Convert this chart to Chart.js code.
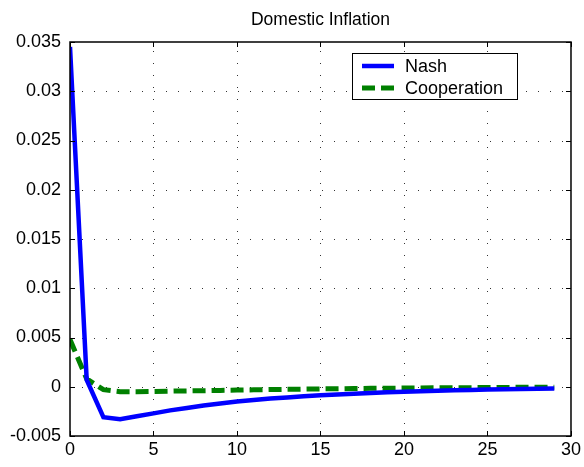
<!DOCTYPE html>
<html><head><meta charset="utf-8">
<script src="https://cdn.jsdelivr.net/npm/chart.js@4/dist/chart.umd.min.js"></script>
<style>html,body{margin:0;padding:0;background:#fff}canvas{display:block}</style>
</head><body>
<canvas id="c" width="584" height="467" style="width:584px;height:467px"></canvas>
<script>
const periods = [0,1,2,3,4,5,6,7,8,9,10,11,12,13,14,15,16,17,18,19,20,21,22,23,24,25,26,27,28,29];
const nash = [0.0345,0.0007,-0.0031,-0.0033,-0.0030,-0.0027,-0.0024,-0.00215,-0.0019,-0.0017,-0.0015,-0.00135,-0.0012,-0.00108,-0.00097,-0.00087,-0.00078,-0.0007,-0.00063,-0.00056,-0.0005,-0.00045,-0.0004,-0.00036,-0.00032,-0.00029,-0.00026,-0.00023,-0.00021,-0.00019];
const cooperation = [0.0048,0.0008,-0.0003,-0.0005,-0.0005,-0.00048,-0.00045,-0.00042,-0.0004,-0.00037,-0.00034,-0.00031,-0.00028,-0.00026,-0.00024,-0.00022,-0.0002,-0.00018,-0.00016,-0.00015,-0.00013,-0.00012,-0.00011,-0.0001,-0.00009,-0.00008,-0.00007,-0.00006,-0.00005,-0.00005];
const xTicks = [0,5,10,15,20,25,30];
const yTicks = [-0.005,0,0.005,0.01,0.015,0.02,0.025,0.03,0.035];
const titleText = 'Domestic Inflation';
const seriesNames = ['Nash','Cooperation'];

const FONT = '"Liberation Sans", Arial, Helvetica, sans-serif';

const matlabPlugin = {
  id: 'matlab',
  beforeDatasetsDraw(chart) {
    const {ctx, chartArea: a, scales: {x, y}} = chart;
    ctx.save();
    ctx.strokeStyle = 'rgba(0,0,0,0.8)';
    ctx.lineWidth = 1;
    ctx.setLineDash([1, 11]);
    xTicks.forEach(v => {
      if (v <= 0 || v >= 30) return;
      const px = Math.round(x.getPixelForValue(v)) + 0.5;
      ctx.beginPath(); ctx.moveTo(px, a.bottom); ctx.lineTo(px, a.top); ctx.stroke();
    });
    yTicks.forEach(v => {
      if (v <= -0.005 || v >= 0.035) return;
      const py = Math.round(y.getPixelForValue(v)) + 0.5;
      ctx.beginPath(); ctx.moveTo(a.left, py); ctx.lineTo(a.right, py); ctx.stroke();
    });
    ctx.restore();
  },
  afterDraw(chart) {
    const {ctx, chartArea: a, scales: {x, y}} = chart;
    ctx.save();
    ctx.setLineDash([]);
    ctx.strokeStyle = '#000';
    ctx.lineWidth = 1.5;
    ctx.strokeRect(a.left, a.top, a.right - a.left, a.bottom - a.top);
    ctx.lineWidth = 1;
    const tl = 5;
    xTicks.forEach(v => {
      const px = Math.round(x.getPixelForValue(v)) + 0.5;
      ctx.beginPath(); ctx.moveTo(px, a.bottom); ctx.lineTo(px, a.bottom - tl); ctx.stroke();
      ctx.beginPath(); ctx.moveTo(px, a.top); ctx.lineTo(px, a.top + tl); ctx.stroke();
    });
    yTicks.forEach(v => {
      const py = Math.round(y.getPixelForValue(v)) + 0.5;
      ctx.beginPath(); ctx.moveTo(a.left, py); ctx.lineTo(a.left + tl, py); ctx.stroke();
      ctx.beginPath(); ctx.moveTo(a.right, py); ctx.lineTo(a.right - tl, py); ctx.stroke();
    });
    // title
    ctx.fillStyle = '#000';
    ctx.font = '17.5px ' + FONT;
    ctx.textAlign = 'center';
    ctx.textBaseline = 'middle';
    ctx.fillText(titleText, (a.left + a.right) / 2, 20);
    // legend
    const lx = 352, ly = 53, lw = 165, lh = 46;
    ctx.fillStyle = '#fff';
    ctx.fillRect(lx, ly, lw, lh);
    ctx.strokeStyle = '#000';
    ctx.lineWidth = 1;
    ctx.strokeRect(lx + 0.5, ly + 0.5, lw, lh);
    const ds = chart.data.datasets;
    [0, 1].forEach(i => {
      const yy = ly + 13 + i * 22;
      ctx.strokeStyle = ds[i].borderColor;
      ctx.lineWidth = ds[i].borderWidth;
      ctx.setLineDash(ds[i].borderDash || []);
      ctx.beginPath(); ctx.moveTo(lx + 10, yy); ctx.lineTo(lx + 42, yy); ctx.stroke();
      ctx.setLineDash([]);
      ctx.fillStyle = '#000';
      ctx.font = '18px ' + FONT;
      ctx.textAlign = 'left';
      ctx.textBaseline = 'middle';
      ctx.fillText(seriesNames[i], lx + 53, yy + 1);
    });
    ctx.restore();
  }
};

new Chart(document.getElementById('c'), {
  type: 'line',
  data: {
    labels: periods,
    datasets: [
      {label: seriesNames[0], data: periods.map((p, i) => ({x: p, y: nash[i]})), borderColor: '#0000ff', borderWidth: 4.5, pointRadius: 0, tension: 0, fill: false},
      {label: seriesNames[1], data: periods.map((p, i) => ({x: p, y: cooperation[i]})), borderColor: '#008000', borderWidth: 5, borderDash: [13, 6], pointRadius: 0, tension: 0, fill: false}
    ]
  },
  options: {
    responsive: false,
    animation: false,
    devicePixelRatio: 1,
    layout: {padding: {top: 42, right: 12, left: 0, bottom: 0}},
    plugins: {legend: {display: false}, title: {display: false}, tooltip: {enabled: false}},
    scales: {
      x: {
        type: 'linear', min: 0, max: 30,
        afterBuildTicks: s => { s.ticks = xTicks.map(v => ({value: v})); },
        afterFit: s => { s.height = 31; },
        grid: {display: false, drawTicks: false},
        border: {display: false},
        ticks: {color: '#000', font: {family: FONT, size: 18}, padding: 3, maxRotation: 0, autoSkip: false, callback: v => String(v)}
      },
      y: {
        type: 'linear', min: -0.005, max: 0.035,
        afterBuildTicks: s => { s.ticks = yTicks.map(v => ({value: v})); },
        afterFit: s => { s.width = 70; },
        grid: {display: false, drawTicks: false},
        border: {display: false},
        ticks: {color: '#000', font: {family: FONT, size: 18}, padding: 9, autoSkip: false, callback: v => String(parseFloat(Number(v).toFixed(3)))}
      }
    }
  },
  plugins: [matlabPlugin]
});
</script>
</body></html>
